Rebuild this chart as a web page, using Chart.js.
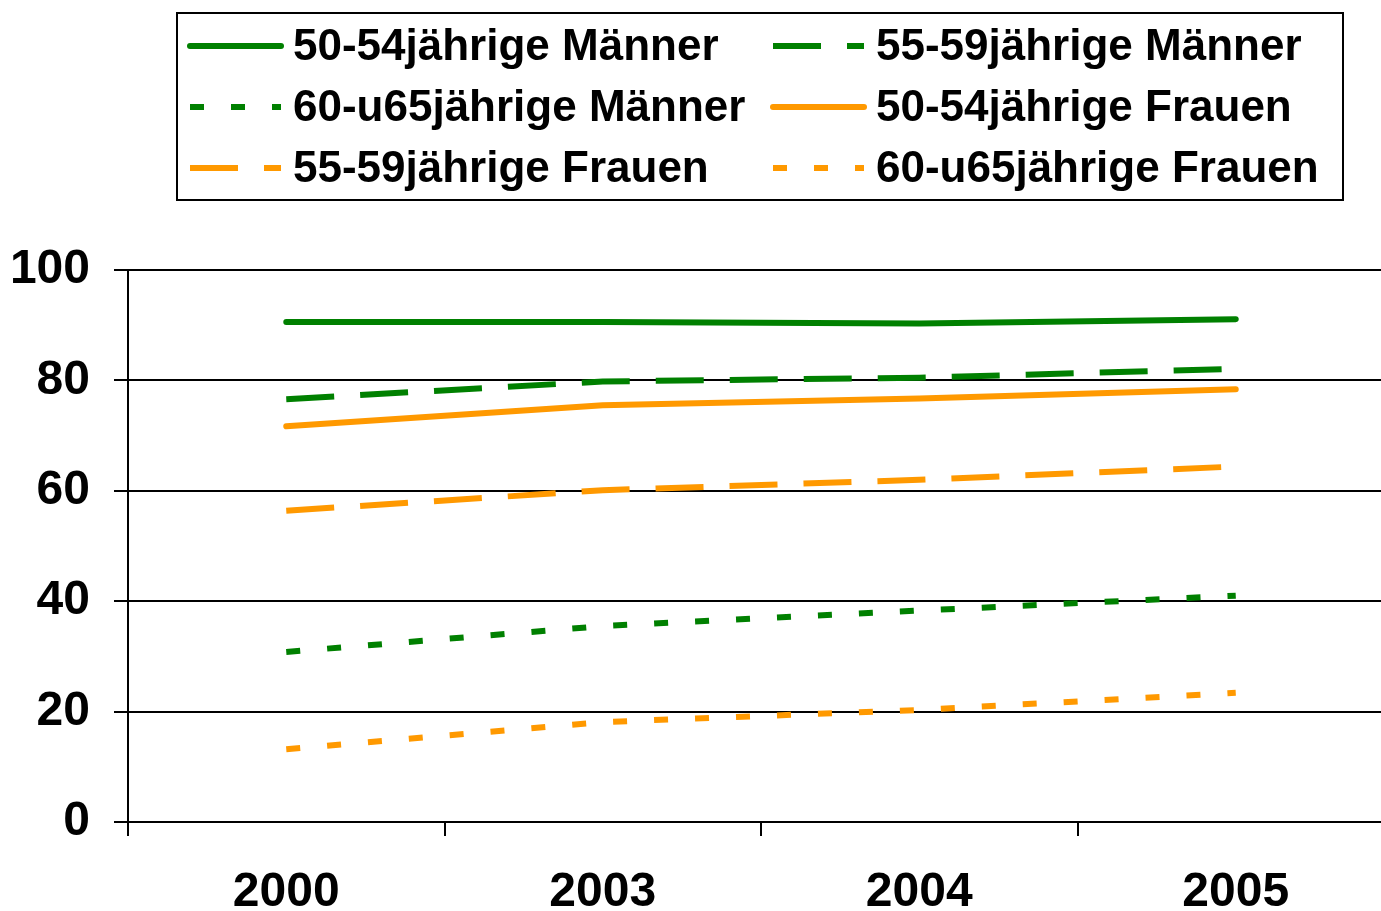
<!DOCTYPE html>
<html>
<head>
<meta charset="utf-8">
<script src="https://cdn.jsdelivr.net/npm/chart.js@4.4.1/dist/chart.umd.min.js"></script>
<style>
  html, body { margin: 0; padding: 0; background: #fff; overflow: hidden; }
  #wrap { width: 1400px; height: 911px; }
</style>
</head>
<body>
<div id="wrap"><canvas id="chart" width="1400" height="911"></canvas></div>
<script>
const years = ["2000", "2003", "2004", "2005"];
const yTicks = [0, 20, 40, 60, 80, 100];

const labels = [
  "50-54jährige Männer", "55-59jährige Männer",
  "60-u65jährige Männer", "50-54jährige Frauen",
  "55-59jährige Frauen", "60-u65jährige Frauen"
];

const maenner5054 = [90.6, 90.6, 90.3, 91.1];
const maenner5559 = [76.6, 79.8, 80.5, 82.1];
const maenner6065 = [30.8, 35.5, 38.3, 41.0];
const frauen5054 = [71.7, 75.5, 76.7, 78.4];
const frauen5559 = [56.4, 60.1, 62.0, 64.4];
const frauen6065 = [13.2, 18.1, 20.3, 23.4];

const GREEN = "#008000";
const ORANGE = "#ff9900";
const DASH = [48, 26];
const DOT = [14, 27];

function series(label, data, color, dash) {
  return {
    label, data,
    borderColor: color,
    backgroundColor: color,
    borderWidth: 6,
    borderDash: dash,
    borderCapStyle: dash.length ? "butt" : "round",
    borderJoinStyle: "round",
    pointRadius: 0,
    tension: 0,
    fill: false
  };
}

// legend drawn in a boxed 2-column grid like the original
const boxLegend = {
  id: "boxLegend",
  afterDraw(chart) {
    const ctx = chart.ctx;
    ctx.save();
    ctx.strokeStyle = "#000";
    ctx.lineWidth = 2;
    ctx.setLineDash([]);
    ctx.strokeRect(177, 13, 1166, 187);

    const cols = [190, 773];
    const rows = [46, 107, 168];
    chart.data.datasets.forEach((ds, i) => {
      const x = cols[i % 2];
      const y = rows[Math.floor(i / 2)];
      ctx.beginPath();
      ctx.strokeStyle = ds.borderColor;
      ctx.lineWidth = 6;
      ctx.lineCap = ds.borderCapStyle;
      ctx.setLineDash(ds.borderDash);
      ctx.moveTo(x, y);
      ctx.lineTo(x + 91, y);
      ctx.stroke();

      ctx.setLineDash([]);
      ctx.fillStyle = "#000";
      ctx.font = "bold 44px 'Liberation Sans', Arial, sans-serif";
      ctx.textBaseline = "middle";
      ctx.textAlign = "left";
      ctx.fillText(ds.label, x + 103, y + 2);
    });
    ctx.restore();
  }
};

new Chart(document.getElementById("chart"), {
  type: "line",
  data: {
    labels: years,
    datasets: [
      series(labels[0], maenner5054, GREEN, []),
      series(labels[1], maenner5559, GREEN, DASH),
      series(labels[2], maenner6065, GREEN, DOT),
      series(labels[3], frauen5054, ORANGE, []),
      series(labels[4], frauen5559, ORANGE, DASH),
      series(labels[5], frauen6065, ORANGE, DOT)
    ]
  },
  options: {
    responsive: false,
    animation: false,
    layout: { padding: { top: 270, right: 6, left: 0, bottom: 0 } },
    plugins: {
      legend: { display: false },
      tooltip: { enabled: false }
    },
    scales: {
      x: {
        offset: true,
        grid: { offset: true, drawOnChartArea: false, color: "#000", lineWidth: 2, tickLength: 14 },
        border: { display: true, color: "#000", width: 2 },
        ticks: {
          color: "#000",
          padding: 28,
          font: { family: "'Liberation Sans', Arial, sans-serif", size: 48, weight: "bold" }
        },
        afterFit(s) { s.height = 89; }
      },
      y: {
        min: 0,
        max: 100,
        afterBuildTicks(s) { s.ticks = yTicks.map(v => ({ value: v })); },
        grid: { color: "#000", lineWidth: 2, tickLength: 14 },
        border: { display: true, color: "#000", width: 2 },
        ticks: {
          color: "#000",
          padding: 24,
          font: { family: "'Liberation Sans', Arial, sans-serif", size: 48, weight: "bold" }
        },
        afterFit(s) { s.width = 128; }
      }
    }
  },
  plugins: [boxLegend]
});
</script>
</body>
</html>
